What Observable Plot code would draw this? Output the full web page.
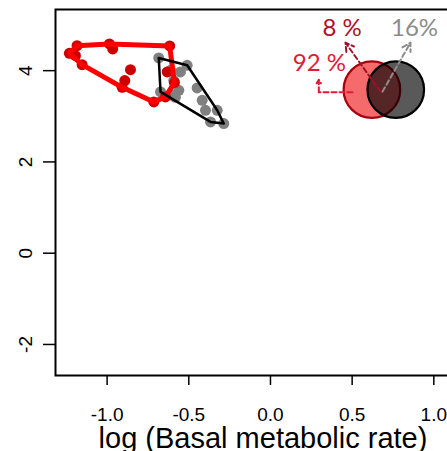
<!DOCTYPE html>
<html>
<head>
<meta charset="utf-8">
<script src="https://cdn.jsdelivr.net/npm/d3@7"></script>
<script src="https://cdn.jsdelivr.net/npm/@observablehq/plot@0.6"></script>
<style>
  html, body { margin: 0; padding: 0; background: #fff; overflow: hidden; width: 447px; height: 451px; }
  #chart { width: 447px; height: 451px; overflow: hidden; }
  #chart svg { display: block; max-width: none !important; width: 470px; height: 451px; }
</style>
</head>
<body>
<div id="chart"></div>
<script>
// Red group (log BMR, y)
const redX = [-1.184, -1.231, -1.194, -1.153, -0.986, -0.966, -0.617, -0.857, -0.892, -0.908, -0.714, -0.643, -0.588, -0.632];
const redY = [4.548, 4.379, 4.329, 4.132, 4.585, 4.476, 4.541, 4.022, 3.782, 3.635, 3.315, 3.425, 3.738, 3.972];
// Grey group
const greyX = [-0.684, -0.510, -0.551, -0.612, -0.592, -0.561, -0.449, -0.602, -0.673, -0.418, -0.326, -0.398, -0.367, -0.286, -0.582];
const greyY = [4.279, 4.117, 3.972, 4.007, 3.782, 3.569, 3.622, 3.460, 3.534, 3.350, 3.131, 3.131, 2.877, 2.840, 3.416];

const xTicks = [-1.0, -0.5, 0.0, 0.5, 1.0];
const yTicks = [-2, 0, 2, 4];
const xTitle = "log (Basal metabolic rate)";

// Venn inset (overlap of the two hulls)
const vennX = [0.621, 0.767];
const vennY = [3.584, 3.584];
const vennFill = ["#ee0000", "#000000"];
const vennFillOpacity = [0.58, 0.65];
const vennStroke = ["#a8000f", "#000000"];

const pctText = ["8 %", "16%", "92 %"];
const pctX = [0.439, 0.882, 0.300];
const pctY = [4.92, 4.92, 4.165];
const pctColor = ["#b0102a", "#8c8c8c", "#e21a36"];

const arrowX1 = [0.673, 0.686];
const arrowY1 = [3.541, 3.541];
const arrowX2 = [0.459, 0.857];
const arrowY2 = [4.614, 4.614];
const arrowColor = ["#a0102a", "#8c8c8c"];

const elbowX = [0.502, 0.296, 0.296];
const elbowY = [3.525, 3.525, 3.803];

const red = redX.map((x, i) => ({x, y: redY[i]}));
const grey = greyX.map((x, i) => ({x, y: greyY[i]}));
const venn = vennX.map((x, i) => ({x, y: vennY[i], fill: vennFill[i], op: vennFillOpacity[i], stroke: vennStroke[i]}));
const pcts = pctText.map((t, i) => ({t, x: pctX[i], y: pctY[i], c: pctColor[i]}));
const arrows = arrowX1.map((x1, i) => ({x1, y1: arrowY1[i], x2: arrowX2[i], y2: arrowY2[i], c: arrowColor[i]}));
const elbowLine = [0, 1].map(i => ({x: elbowX[i], y: elbowY[i]}));
const elbowArrow = [{x1: elbowX[1], y1: elbowY[1], x2: elbowX[2], y2: elbowY[2]}];

const font = "Liberation Sans, Arial, sans-serif";

const chart = Plot.plot({
  width: 470,
  height: 451,
  marginLeft: 55,
  marginRight: 0,
  marginTop: 9,
  marginBottom: 76,
  style: {fontFamily: font, background: "white", overflow: "visible"},
  x: {domain: [-1.316, 1.2245]},
  y: {domain: [-2.68, 5.34]},
  marks: [
    Plot.dot(grey, {x: "x", y: "y", r: 5.5, fill: "#808080", stroke: "none"}),
    Plot.dot(red, {x: "x", y: "y", r: 5.5, fill: "#cc0000", stroke: "none"}),
    Plot.hull(red, {x: "x", y: "y", stroke: "#ff0000", strokeWidth: 5, strokeLinejoin: "round"}),
    Plot.hull(grey, {x: "x", y: "y", stroke: "#000000", strokeWidth: 2.5, strokeLinejoin: "round"}),
    Plot.dot(venn, {x: "x", y: "y", r: 28.3, fill: "fill", fillOpacity: "op", stroke: "stroke", strokeWidth: 2.2}),
    Plot.arrow(arrows, {x1: "x1", y1: "y1", x2: "x2", y2: "y2", stroke: "c", strokeWidth: 2, strokeDasharray: "5,3", headLength: 7, insetEnd: 0, insetStart: 0}),
    Plot.line(elbowLine, {x: "x", y: "y", stroke: "#e21a36", strokeWidth: 2, strokeDasharray: "5,3"}),
    Plot.arrow(elbowArrow, {x1: "x1", y1: "y1", x2: "x2", y2: "y2", stroke: "#e21a36", strokeWidth: 2, strokeDasharray: "5,3", headLength: 6, insetStart: 0, insetEnd: 0}),
    Plot.text(pcts, {x: "x", y: "y", text: "t", fill: "c", fontSize: 24, fontFamily: "Lato, sans-serif"}),
    Plot.frame({stroke: "black", strokeWidth: 2}),
    Plot.axisX(xTicks, {tickSize: 10, tickPadding: 22, fontSize: 19, tickFormat: d => d.toFixed(1), label: null, strokeWidth: 1.5}),
    Plot.axisY(yTicks, {tickSize: 12, tickPadding: 12, tickRotate: -90, fontSize: 19, tickFormat: d => String(d), label: null, strokeWidth: 1.5}),
    Plot.text([xTitle], {frameAnchor: "bottom", dy: 63.7, fontSize: 29, lineAnchor: "middle", fill: "black"})
  ]
});
document.getElementById("chart").appendChild(chart);
</script>
</body>
</html>
